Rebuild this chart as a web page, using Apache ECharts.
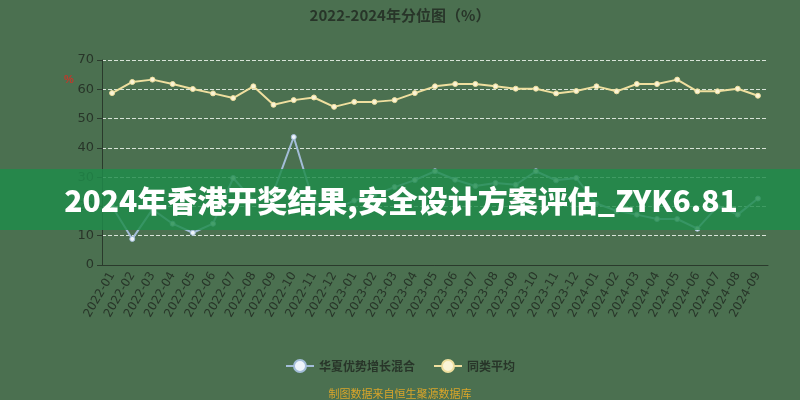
<!DOCTYPE html>
<html>
<head>
<meta charset="utf-8">
<script src="https://cdn.jsdelivr.net/npm/echarts@6/dist/echarts.min.js"></script>
<style>
html,body{margin:0;padding:0;background:#4b7050;}
#c{width:800px;height:400px;}
</style>
</head>
<body>
<div id="c"></div>
<script>
const categories = ['2022-01','2022-02','2022-03','2022-04','2022-05','2022-06','2022-07','2022-08','2022-09','2022-10','2022-11','2022-12',
'2023-01','2023-02','2023-03','2023-04','2023-05','2023-06','2023-07','2023-08','2023-09','2023-10','2023-11','2023-12',
'2024-01','2024-02','2024-03','2024-04','2024-05','2024-06','2024-07','2024-08','2024-09'];
const fundValues = [20, 8.9, 19, 14.1, 11.0, 14.1, 29.7, 22, 25, 43.7, 21, 19,
22, 24, 26.6, 29, 32.0, 29.1, 27, 28.0, 27.4, 32.0, 28.9, 29.7,
21, 18.5, 17.2, 15.7, 15.7, 12.4, 20, 17.2, 22.7];
const avgValues = [58.7, 62.5, 63.3, 61.8, 60.1, 58.6, 57.0, 61.0, 54.7, 56.3, 57.2, 54.0,
55.7, 55.7, 56.3, 58.7, 61.0, 61.8, 61.8, 61.0, 60.2, 60.2, 58.6, 59.4,
61.0, 59.3, 61.8, 61.8, 63.3, 59.3, 59.3, 60.2, 57.8];
const seriesNames = ['华夏优势增长混合', '同类平均'];
const titleText = '2022-2024年分位图（%）';
const bannerText = '2024年香港开奖结果,安全设计方案评估_ZYK6.81';
const sourceText = '制图数据来自恒生聚源数据库';

const chart = echarts.init(document.getElementById('c'));
const txt = '#283529';
chart.setOption({
  backgroundColor: '#4b7050',
  animation: false,
  title: {
    text: titleText, left: 'center', top: 3,
    textStyle: {fontSize: 15, fontWeight: 'bold', color: txt, fontFamily: 'Noto Sans CJK SC'}
  },
  legend: {
    bottom: 22, left: 'center', itemWidth: 28, itemHeight: 15, itemGap: 18,
    textStyle: {fontSize: 12, color: txt, fontFamily: 'Noto Sans CJK SC', fontWeight: 'bold'},
    data: seriesNames
  },
  grid: {left: 102, right: 32, top: 60, bottom: 135},
  xAxis: {
    type: 'category', data: categories,
    axisLine: {lineStyle: {color: '#2a3a2c'}},
    axisTick: {lineStyle: {color: '#2a3a2c'}},
    axisLabel: {rotate: 60, fontSize: 12, color: txt, fontFamily: 'DejaVu Sans', interval: 0, margin: 8}
  },
  yAxis: {
    type: 'value', min: 0, max: 70, interval: 10,
    axisLine: {show: true, lineStyle: {color: '#2a3a2c'}},
    axisTick: {show: true, lineStyle: {color: '#2a3a2c'}},
    axisLabel: {fontSize: 13, color: txt, fontFamily: 'DejaVu Sans'},
    splitLine: {lineStyle: {color: '#d8e4d8', type: 'dashed'}}
  },
  series: [
    {
      name: seriesNames[0], type: 'line', data: fundValues,
      symbol: 'circle', symbolSize: 5,
      lineStyle: {color: '#a3bdd8', width: 2},
      itemStyle: {color: '#eef4fa', borderColor: '#a3bdd8', borderWidth: 1}
    },
    {
      name: seriesNames[1], type: 'line', data: avgValues,
      symbol: 'circle', symbolSize: 5,
      lineStyle: {color: '#efdf9f', width: 2},
      itemStyle: {color: '#fbf4d6', borderColor: '#efdf9f', borderWidth: 1}
    }
  ],
  graphic: [
    {type: 'text', left: 64, top: 74, style: {text: '%', fill: '#c0392b', fontSize: 11, fontWeight: 'bold'}},
    {type: 'rect', shape: {x: 0, y: 169, width: 800, height: 61}, style: {fill: 'rgba(30,140,75,0.82)'}, z: 100},
    {type: 'text', x: 401, y: 201, z: 101, style: {text: bannerText, fill: '#ffffff', fontSize: 30, fontWeight: 900,
      fontFamily: 'Noto Sans CJK SC', align: 'center', verticalAlign: 'middle'}},
    {type: 'text', x: 400, y: 394, style: {text: sourceText, fill: '#d9a52a', fontSize: 11,
      fontFamily: 'Noto Sans CJK SC', align: 'center', verticalAlign: 'middle'}}
  ]
});
</script>
</body>
</html>
